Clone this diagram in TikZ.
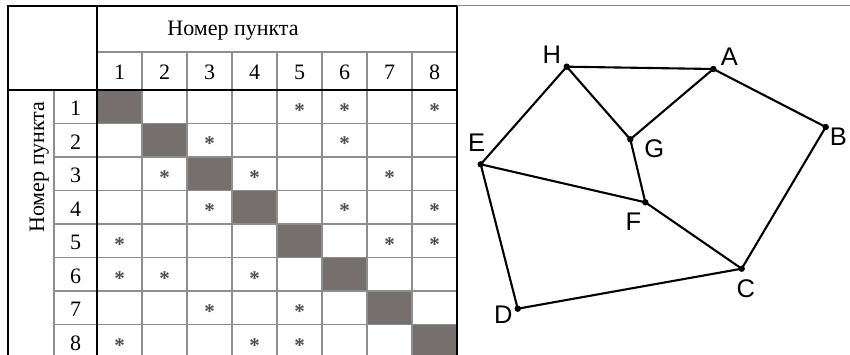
\documentclass[tikz,border=0pt]{standalone}
\usepackage{fontspec}
\setmainfont{Liberation Serif}
\newfontfamily\graphfont{Liberation Sans}
\definecolor{thingray}{HTML}{8E8E8E}
\definecolor{diaggray}{HTML}{75706E}
\definecolor{stargray}{HTML}{505050}
\definecolor{topgray}{HTML}{8A8A8A}
\begin{document}
\begin{tikzpicture}[x=1pt,y=-1pt,
  thickrule/.style={line width=2pt,black},
  thinrule/.style={line width=1.1pt,thingray},
  diagcell/.style={fill=diaggray},
  digit/.style={font=\fontsize{22}{24}\selectfont,anchor=base,inner sep=0pt},
  starmark/.style={font=\bfseries\fontsize{21}{23}\selectfont,text=stargray,anchor=base,inner sep=0pt},
  header/.style={font=\fontsize{22}{24}\selectfont,anchor=base,inner sep=0pt},
  edge/.style={line width=2.1pt,black,line cap=round},
  vdot/.style={fill=black},
  vlabel/.style={font=\graphfont\fontsize{25.5}{27}\selectfont,inner sep=0pt}
  ]
\useasboundingbox (0,0) rectangle (850,355);
\clip (0,0) rectangle (850,355);
\fill[white] (0,0) rectangle (850,355);
% diagonal cells
\foreach \i in {1,...,8}{
  \fill[diagcell] ({97+45*(\i-1)},{90+33.5*(\i-1)}) rectangle ({97+45*\i},{90+33.5*\i});
}
% thin lines
\draw[thinrule] (97,52) -- (457,52);
\foreach \c in {1,...,7}{
  \draw[thinrule] ({97+45*\c},52) -- ({97+45*\c},360);
}
\draw[thinrule] (54,90) -- (54,360);
\foreach \r in {1,...,8}{
  \draw[thinrule] (54,{90+33.5*\r}) -- (457,{90+33.5*\r});
}
% thick lines
\draw[thickrule] (8,360) -- (8,6) -- (457,6) -- (457,360);
\draw[thickrule] (97,6) -- (97,360);
\draw[thickrule] (8,90) -- (457,90);
\draw[line width=1.3pt,topgray] (457,5.5) -- (850,5.5);
% header texts
\node[header] (colhead) at (233,36) {Номер пункта};
\node[header,rotate=90] (rowhead) at (44,167) {Номер пункта};
\foreach \i in {1,...,8}{
  \node[digit] (c\i) at ({119.5+45*(\i-1)},79.5) {\i};
  \node[digit] (r\i) at (75.5,{115.75+33.5*(\i-1)}) {\i};
}
% stars: row/col pairs
\foreach \r/\c in {1/5,1/6,1/8,2/3,2/6,3/2,3/4,3/7,4/3,4/6,4/8,5/1,5/7,5/8,6/1,6/2,6/4,7/3,7/5,8/1,8/4,8/5}{
  \node[starmark] (s\r\c) at ({119.5+45*(\c-1)},{117.5+33.5*(\r-1)}) {*};
}
% graph
\coordinate (H) at (566.7,66.7);
\coordinate (A) at (713.3,69);
\coordinate (B) at (825.7,127);
\coordinate (G) at (630.3,139.3);
\coordinate (E) at (480.7,164.3);
\coordinate (F) at (645.3,202.3);
\coordinate (C) at (741.7,268.7);
\coordinate (D) at (517.7,308.7);
\draw[edge] (H) -- (A);
\draw[edge] (H) -- (E);
\draw[edge] (H) -- (G);
\draw[edge] (A) -- (G);
\draw[edge] (A) -- (B);
\draw[edge] (B) -- (C);
\draw[edge] (G) -- (F);
\draw[edge] (E) -- (F);
\draw[edge] (E) -- (D);
\draw[edge] (F) -- (C);
\draw[edge] (D) -- (C);
\foreach \v in {H,A,B,G,E,F,C,D}{
  \fill[vdot] (\v) circle (3.2pt);
}
\node[vlabel] (lH) at (551.7,55) {H};
\node[vlabel] (lA) at (729.3,56.7) {A};
\node[vlabel] (lB) at (838.3,136.7) {B};
\node[vlabel] (lG) at (654.3,149) {G};
\node[vlabel] (lE) at (476.7,142.7) {E};
\node[vlabel] (lF) at (633.3,221.7) {F};
\node[vlabel] (lC) at (745.7,288.3) {C};
\node[vlabel] (lD) at (503.3,314.3) {D};
\end{tikzpicture}
\end{document}
